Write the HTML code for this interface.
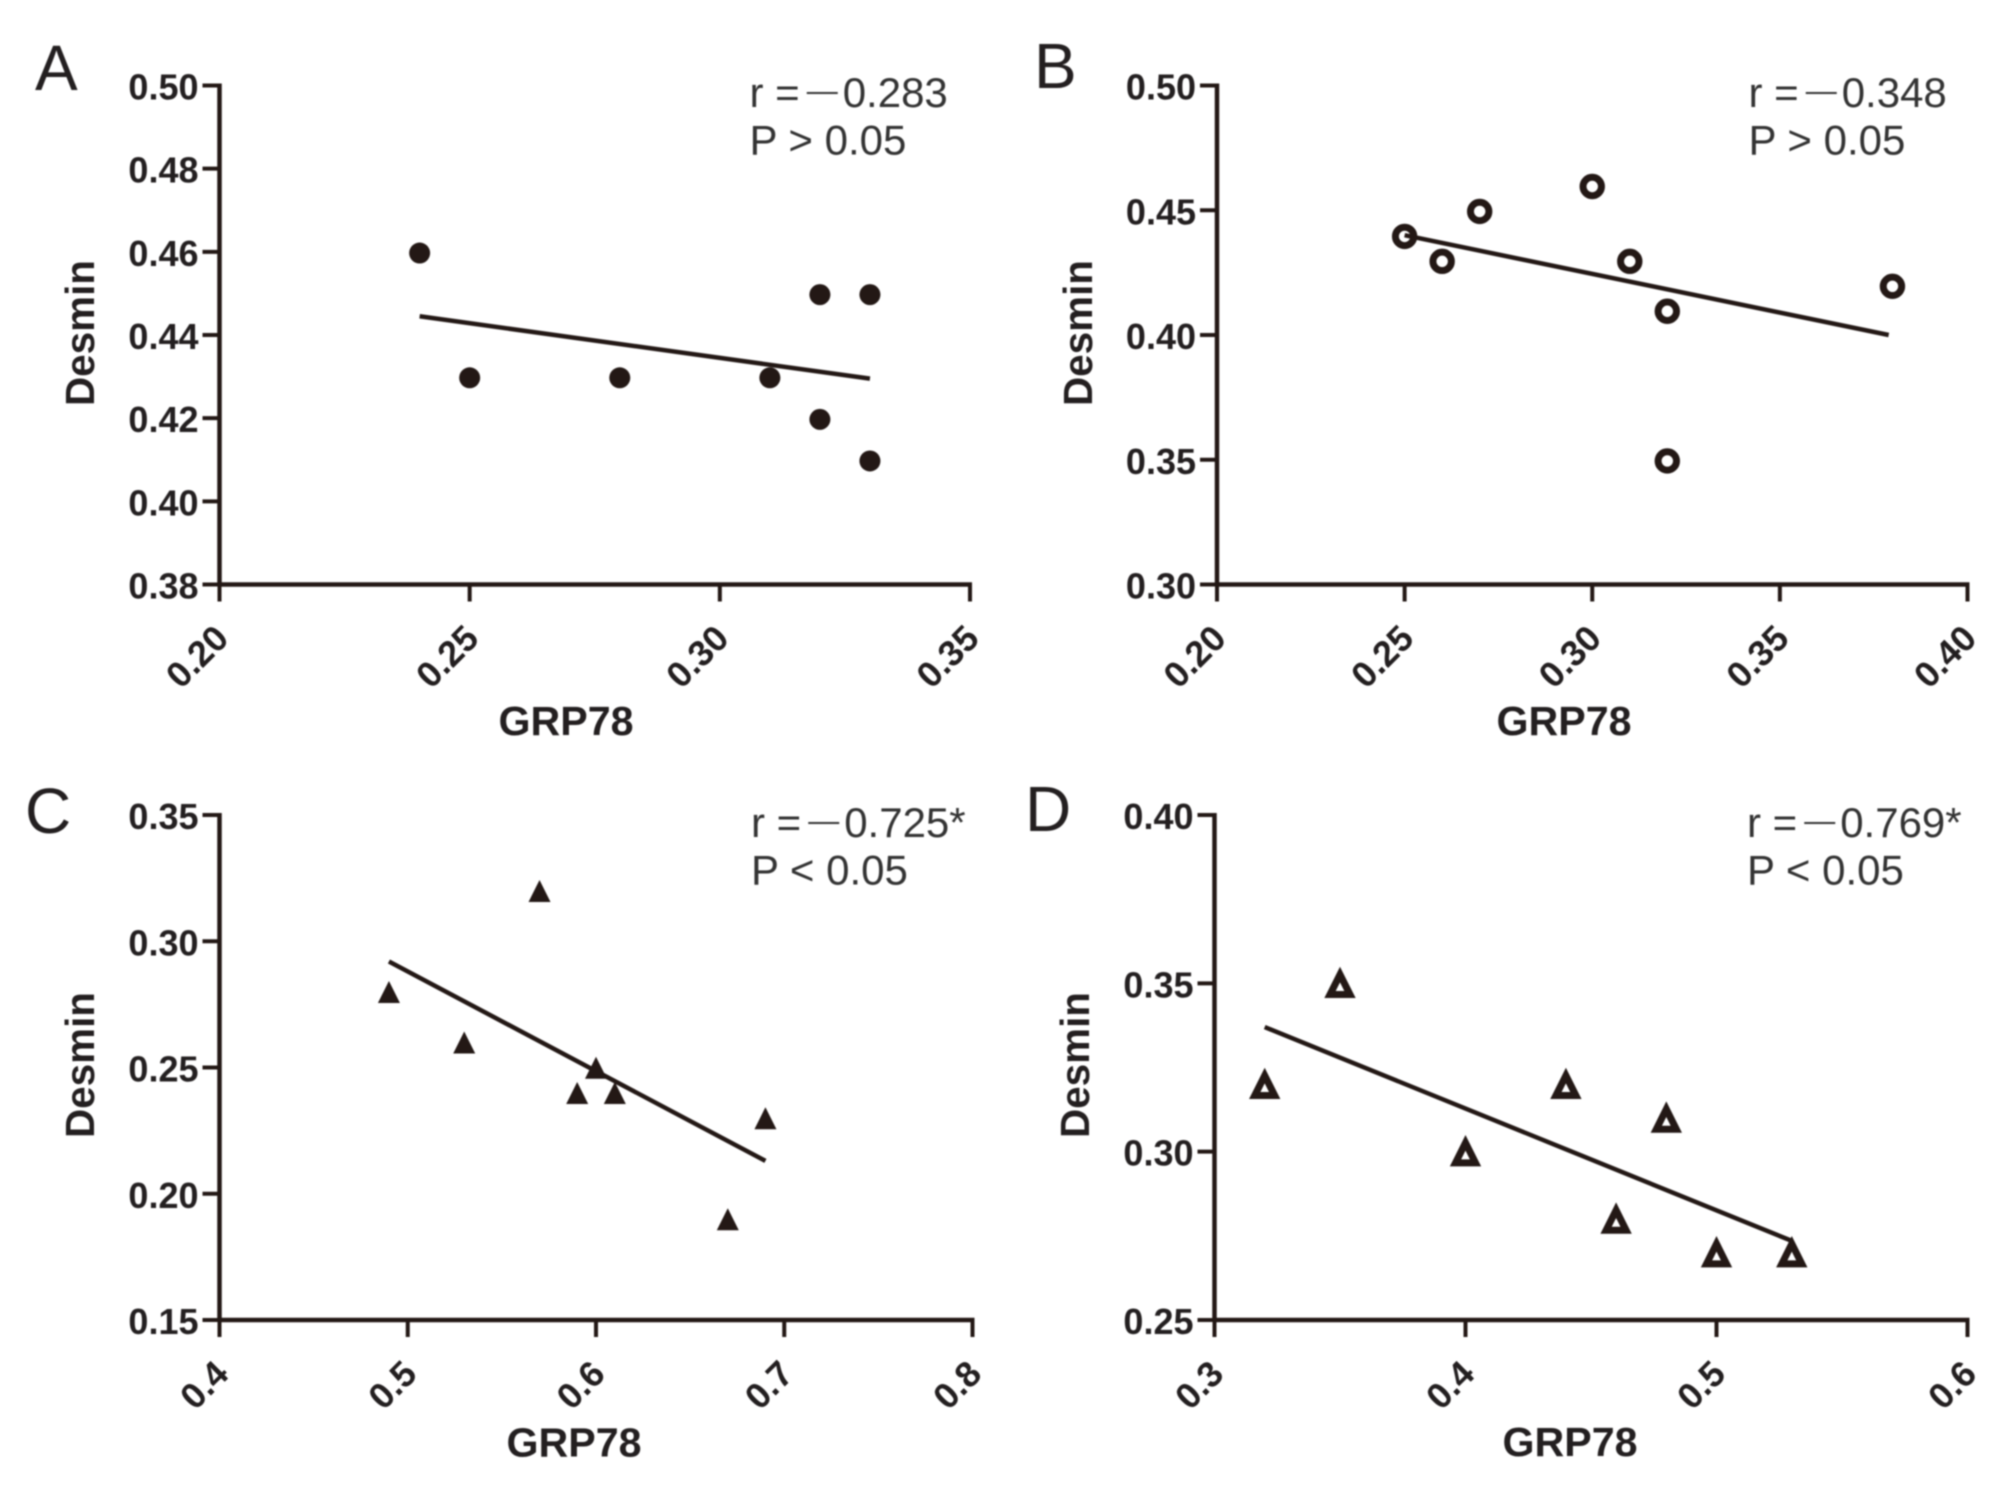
<!DOCTYPE html>
<html lang="en">
<head>
<meta charset="utf-8">
<title>Desmin vs GRP78 correlation panels</title>
<style>
html,body{margin:0;padding:0;background:#fff;}
svg{display:block;filter:blur(0.8px);}
text{font-family:"Liberation Sans",Arial,sans-serif;fill:#231f20;}
.tick{font-weight:700;font-size:36px;}
.axt{font-weight:700;font-size:41px;}
.note{font-size:42px;fill:#333;}
.letter{font-size:64px;}
</style>
</head>
<body>
<svg id="fig" xmlns="http://www.w3.org/2000/svg" width="2008" height="1492" viewBox="0 0 2008 1492">
<rect width="2008" height="1492" fill="#fff"/>
</svg>
<script>
// Panel A
const aXTicks = ['0.20','0.25','0.30','0.35'];
const aYTicks = ['0.38','0.40','0.42','0.44','0.46','0.48','0.50'];
const aX = [0.24,0.25,0.28,0.31,0.32,0.32,0.33,0.33];
const aY = [0.46,0.43,0.43,0.43,0.45,0.42,0.45,0.41];
const aTrendX = [0.24,0.33];
const aTrendY = [0.4445,0.4295];
// Panel B
const bXTicks = ['0.20','0.25','0.30','0.35','0.40'];
const bYTicks = ['0.30','0.35','0.40','0.45','0.50'];
const bX = [0.25,0.26,0.27,0.30,0.31,0.32,0.32,0.38];
const bY = [0.44,0.43,0.45,0.46,0.43,0.41,0.35,0.42];
const bTrendX = [0.25,0.379];
const bTrendY = [0.44,0.40];
// Panel C
const cXTicks = ['0.4','0.5','0.6','0.7','0.8'];
const cYTicks = ['0.15','0.20','0.25','0.30','0.35'];
const cX = [0.49,0.53,0.57,0.59,0.60,0.61,0.67,0.69];
const cY = [0.28,0.26,0.32,0.24,0.25,0.24,0.19,0.23];
const cTrendX = [0.49,0.69];
const cTrendY = [0.292,0.213];
// Panel D
const dXTicks = ['0.3','0.4','0.5','0.6'];
const dYTicks = ['0.25','0.30','0.35','0.40'];
const dX = [0.32,0.35,0.40,0.44,0.46,0.48,0.50,0.53];
const dY = [0.32,0.35,0.30,0.32,0.28,0.31,0.27,0.27];
const dTrendX = [0.32,0.53];
const dTrendY = [0.337,0.2735];

const NS = 'http://www.w3.org/2000/svg';
const INK = '#231815';
const svg = document.getElementById('fig');

function node(tag, parent, attrs, txt) {
  const el = document.createElementNS(NS, tag);
  for (const k in attrs) el.setAttribute(k, attrs[k]);
  if (txt !== undefined) el.textContent = txt;
  parent.appendChild(el);
  return el;
}

function drawPanel(p) {
  const g = node('g', svg, {});
  
  

  const xMin = parseFloat(p.xTicks[0]), xMax = parseFloat(p.xTicks[p.xTicks.length - 1]);
  const yMin = parseFloat(p.yTicks[0]), yMax = parseFloat(p.yTicks[p.yTicks.length - 1]);
  const sx = v => p.left + (v - xMin) / (xMax - xMin) * (p.right - p.left);
  const sy = v => p.bottom - (v - yMin) / (yMax - yMin) * (p.bottom - p.top);

  const letter = node('text', g, {x: p.letterX, y: p.letterY, class: 'letter'}, p.id.toUpperCase());
  
  

  const yAxis = node('line', g, {x1: p.left, x2: p.left, y1: p.top - 2, y2: p.bottom + 2, stroke: INK, 'stroke-width': 4.5});
  
  
  const xAxis = node('line', g, {x1: p.left - 2, x2: p.right + 2, y1: p.bottom, y2: p.bottom, stroke: INK, 'stroke-width': 4.5});
  
  

  p.yTicks.forEach(t => {
    const y = sy(parseFloat(t));
    const tk = node('line', g, {x1: p.left - 17, x2: p.left, y1: y, y2: y, stroke: INK, 'stroke-width': 4});
    
    
    const lb = node('text', g, {x: p.left - 21, y: y + 14, class: 'tick', 'text-anchor': 'end'}, t);
    
    
  });
  p.xTicks.forEach(t => {
    const x = sx(parseFloat(t));
    const tk = node('line', g, {x1: x, x2: x, y1: p.bottom, y2: p.bottom + 17, stroke: INK, 'stroke-width': 4});
    
    
    const ax = x + 11, ay = p.bottom + 56;
    const lb = node('text', g, {x: ax, y: ay, class: 'tick', 'text-anchor': 'end', transform: 'rotate(-45 ' + ax + ' ' + ay + ')'}, t);
    
    
  });

  const xTitle = node('text', g, {x: p.xTitleX, y: p.xTitleY + 1, class: 'axt', 'text-anchor': 'middle', textLength: 135, lengthAdjust: 'spacingAndGlyphs'}, 'GRP78');
  
  
  const yTitle = node('text', g, {x: 0, y: 0, class: 'axt', 'text-anchor': 'middle', textLength: 146, lengthAdjust: 'spacingAndGlyphs', transform: 'translate(' + p.yTitleX + ' ' + p.yTitleY + ') rotate(-90)'}, 'Desmin');
  
  

  const trend = node('line', g, {x1: sx(p.trendX[0]), y1: sy(p.trendY[0]), x2: sx(p.trendX[1]), y2: sy(p.trendY[1]), stroke: INK, 'stroke-width': 4.5});
  
  

  p.x.forEach((v, i) => {
    const cx = sx(v), cy = sy(p.y[i]) + 1.2;
    let mark;
    if (p.marker === 'disc') {
      mark = node('circle', g, {cx: cx, cy: cy, r: 10.5, fill: INK});
    } else if (p.marker === 'ring') {
      mark = node('circle', g, {cx: cx, cy: cy, r: 9.2, fill: 'none', stroke: INK, 'stroke-width': 7});
    } else if (p.marker === 'tri') {
      mark = node('polygon', g, {points: [cx, cy - 12, cx + 11, cy + 10, cx - 11, cy + 10].join(' '), fill: INK});
    } else {
      mark = node('polygon', g, {points: [cx, cy - 10, cx + 10, cy + 10, cx - 10, cy + 10].join(' '), fill: '#fff', stroke: INK, 'stroke-width': 7, 'stroke-linejoin': 'miter'});
    }
    
    
  });

  const r = node('text', g, {x: p.noteX, y: p.noteY, class: 'note'});
  
  
  node('tspan', r, {}, 'r =');
  node('tspan', r, {dx: 7, dy: -6, style: 'font-size:31px'}, '\u2014');
  node('tspan', r, {dx: 5, dy: 6}, p.rText);
  const pv = node('text', g, {x: p.noteX, y: p.noteY + 47.5, class: 'note'}, p.pText);
  
  
}

drawPanel({id:'a', marker:'disc', xTicks:aXTicks, yTicks:aYTicks, x:aX, y:aY, trendX:aTrendX, trendY:aTrendY,
  left:219.5, right:970, top:85.5, bottom:584.5, letterX:35, letterY:90, xTitleX:566, xTitleY:734, yTitleX:94, yTitleY:333,
  noteX:749.5, noteY:107, rText:'0.283', pText:'P > 0.05'});
drawPanel({id:'b', marker:'ring', xTicks:bXTicks, yTicks:bYTicks, x:bX, y:bY, trendX:bTrendX, trendY:bTrendY,
  left:1217, right:1967.5, top:85.5, bottom:584.5, letterX:1034, letterY:88, xTitleX:1564, xTitleY:734, yTitleX:1092, yTitleY:333,
  noteX:1748.5, noteY:107, rText:'0.348', pText:'P > 0.05'});
drawPanel({id:'c', marker:'tri', xTicks:cXTicks, yTicks:cYTicks, x:cX, y:cY, trendX:cTrendX, trendY:cTrendY,
  left:219.5, right:972.5, top:815, bottom:1320, letterX:25, letterY:833, xTitleX:574, xTitleY:1455.5, yTitleX:94, yTitleY:1065,
  noteX:751, noteY:837, rText:'0.725*', pText:'P < 0.05'});
drawPanel({id:'d', marker:'open-tri', xTicks:dXTicks, yTicks:dYTicks, x:dX, y:dY, trendX:dTrendX, trendY:dTrendY,
  left:1214.5, right:1967.5, top:815, bottom:1320, letterX:1025, letterY:831, xTitleX:1570, xTitleY:1455, yTitleX:1089, yTitleY:1065,
  noteX:1747, noteY:837, rText:'0.769*', pText:'P < 0.05'});
</script>
</body>
</html>
